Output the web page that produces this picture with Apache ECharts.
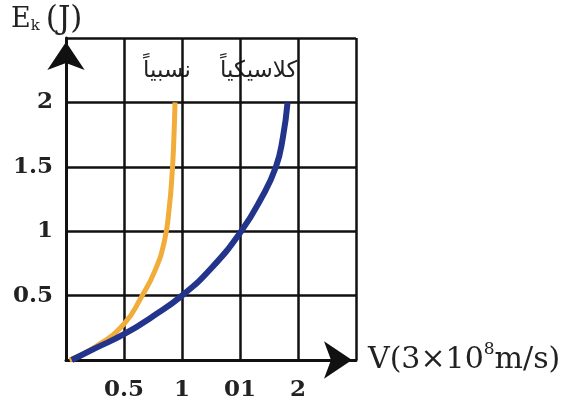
<!DOCTYPE html>
<html>
<head>
<meta charset="utf-8">
<script src="https://cdn.jsdelivr.net/npm/echarts@6/dist/echarts.min.js"></script>
<style>html,body{margin:0;padding:0;background:#fff;}#c{width:568px;height:408px;}</style>
</head>
<body>
<div id="c"></div>
<script>
// Data
var xTickLabels = {0.5: '0.5', 1: '1', 1.5: '01', 2: '2'};
var yTickLabels = {0.5: '0.5', 1: '1', 1.5: '1.5', 2: '2'};
var relV = [0.03, 0.25, 0.50, 0.65, 0.77, 0.85, 0.89, 0.915, 0.93, 0.94];
var relE = [0.0, 0.10, 0.28, 0.49, 0.70, 0.93, 1.18, 1.45, 1.72, 2.0];
var clsV = [0.05, 0.25, 0.50, 0.75, 1.0, 1.25, 1.51, 1.68, 1.81, 1.87, 1.91];
var clsE = [0.0, 0.09, 0.20, 0.34, 0.5, 0.71, 1.0, 1.25, 1.5, 1.73, 2.0];
var relName = 'نسبياً';
var clsName = 'كلاسيكياً';

function zip(a, b) { return a.map(function (v, i) { return [v, b[i]]; }); }

var chart = echarts.init(document.getElementById('c'), null, {renderer: 'canvas'});
var serif = 'DejaVu Serif';
chart.setOption({
  backgroundColor: '#ffffff',
  animation: false,
  grid: {left: 66, top: 38, right: 212, bottom: 48, containLabel: false},
  xAxis: {
    type: 'value', min: 0, max: 2.5, interval: 0.5,
    axisLine: {show: true, lineStyle: {color: '#111', width: 3}, symbol: ['none', 'arrow'], symbolSize: [28, 28], symbolOffset: [0, -4]},
    axisTick: {show: false},
    splitLine: {show: true, lineStyle: {color: '#111', width: 2.5}},
    axisLabel: {
      margin: 19, color: '#222', fontFamily: serif, fontWeight: 'bold', fontSize: 23,
      formatter: function (v) { return xTickLabels[v] || ''; }
    },
    name: '{a|V(3×10}{s|8}{a|m/s)}', nameLocation: 'end', nameGap: 12,
    nameTextStyle: {
      rich: {
        a: {fontFamily: serif, fontSize: 30, color: '#222'},
        s: {fontFamily: serif, fontSize: 17, color: '#222', padding: [0, 0, 20, 0]}
      }
    }
  },
  yAxis: {
    type: 'value', min: 0, max: 2.5, interval: 0.5,
    axisLine: {show: true, lineStyle: {color: '#111', width: 3}, symbol: ['none', 'arrow'], symbolSize: [28, 28], symbolOffset: [0, -4]},
    axisTick: {show: false},
    splitLine: {show: true, lineStyle: {color: '#111', width: 2.5}},
    axisLabel: {
      margin: 13, color: '#222', fontFamily: serif, fontWeight: 'bold', fontSize: 23,
      formatter: function (v) { return yTickLabels[v] || ''; }
    }
  },
  graphic: [
    {type: 'text', left: 11, top: 4, style: {
      text: '{e|E}{k|k}{p|(J)}',
      rich: {
        e: {fontFamily: serif, fontSize: 27, fill: '#222'},
        k: {fontFamily: serif, fontSize: 15, fill: '#222', padding: [14, 6, 0, 0]},
        p: {fontFamily: serif, fontSize: 31, fill: '#222'}
      }
    }},
    {type: 'text', left: 143, top: 60, style: {text: relName, font: '23px "DejaVu Sans"', fill: '#222'}},
    {type: 'text', left: 220, top: 60, style: {text: clsName, font: '23px "DejaVu Sans"', fill: '#222'}}
  ],
  series: [
    {type: 'line', data: zip(relV, relE), smooth: 0.5, showSymbol: false, lineStyle: {color: '#F2AC3A', width: 5}, z: 3},
    {type: 'line', data: zip(clsV, clsE), smooth: 0.5, showSymbol: false, lineStyle: {color: '#22348C', width: 6}, z: 4}
  ]
});
</script>
</body>
</html>
